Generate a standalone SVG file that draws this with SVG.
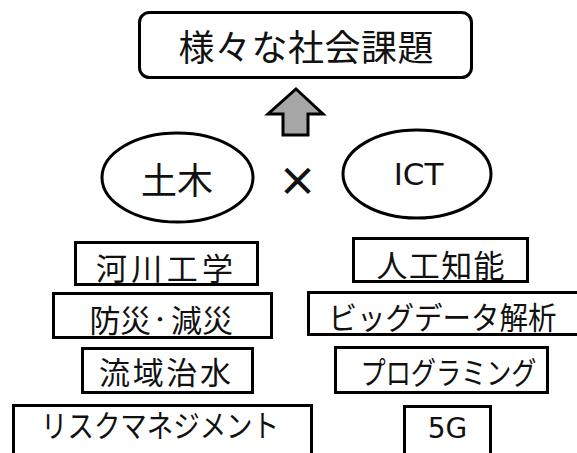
<svg xmlns="http://www.w3.org/2000/svg" width="577" height="453" viewBox="0 0 577 453">
<style>
.box{fill:#fff;stroke:#000;stroke-width:3}
.t{font-family:"Noto Sans CJK JP","Noto Sans",sans-serif;fill:#111;text-anchor:middle;dominant-baseline:central}
.i{font-size:31px}
.l{font-family:"DejaVu Sans",sans-serif;fill:#111;text-anchor:middle;dominant-baseline:central}
</style>
<rect width="577" height="453" fill="#fff"/>
<g id="goal">
<rect class="box" x="139.5" y="12.5" width="332" height="65" rx="10"/>
<text class="t" x="306" y="45" font-size="36" textLength="255" lengthAdjust="spacing">様々な社会課題</text>
</g>
<g id="connectors">
<polygon points="296,89 323,114 308,114 308,135 283,135 283,114 268,114" fill="#a6a6a6" stroke="#000" stroke-width="3" stroke-linejoin="miter"/>
</g>
<g id="doboku">
<ellipse class="box" cx="177.5" cy="177.5" rx="75.5" ry="44.5"/>
<text class="t" x="177" y="177.5" font-size="36" textLength="72" lengthAdjust="spacing">土木</text>
</g>
<g id="times">
<text class="t" x="297.5" y="178.5" font-size="40" font-weight="bold">×</text>
</g>
<g id="ict">
<ellipse class="box" cx="417" cy="174" rx="74" ry="44"/>
<text class="l" x="418.5" y="174" font-size="31">ICT</text>
</g>
<g id="kasen">
<rect class="box" x="75.5" y="242.5" width="182" height="42"/>
<text class="t i" x="164.5" y="266.5" textLength="137" lengthAdjust="spacing">河川工学</text>
</g>
<g id="bousai">
<rect class="box" x="53.5" y="293.5" width="218" height="44"/>
<text class="t i" y="317.5"><tspan x="105">防</tspan><tspan x="135.5">災</tspan><tspan x="160" font-size="17" font-weight="bold">・</tspan><tspan x="186.5">減</tspan><tspan x="217.5">災</tspan></text>
</g>
<g id="ryuiki">
<rect class="box" x="82.5" y="348.5" width="170" height="44"/>
<text class="t i" x="165" y="370" textLength="132" lengthAdjust="spacing">流域治水</text>
</g>
<g id="risk">
<rect class="box" x="13.5" y="405.5" width="298" height="60"/>
<text class="t i" x="160" y="423.5" textLength="238" lengthAdjust="spacingAndGlyphs">リスクマネジメント</text>
</g>
<g id="ai">
<rect class="box" x="353.5" y="238.5" width="174" height="43"/>
<text class="t i" x="440.5" y="263.5" textLength="128" lengthAdjust="spacing">人工知能</text>
</g>
<g id="bigdata">
<rect class="box" x="308.5" y="292.5" width="272" height="42"/>
<text class="t i" x="442.5" y="315" textLength="228" lengthAdjust="spacingAndGlyphs">ビッグデータ解析</text>
</g>
<g id="programming">
<rect class="box" x="335.5" y="347.5" width="212" height="45"/>
<text class="t i" x="448.5" y="370" textLength="176" lengthAdjust="spacingAndGlyphs">プログラミング</text>
</g>
<g id="fiveg">
<rect class="box" x="404.5" y="406.5" width="86" height="50"/>
<text class="l" x="447.5" y="428" font-size="28">5G</text>
</g>
</svg>
